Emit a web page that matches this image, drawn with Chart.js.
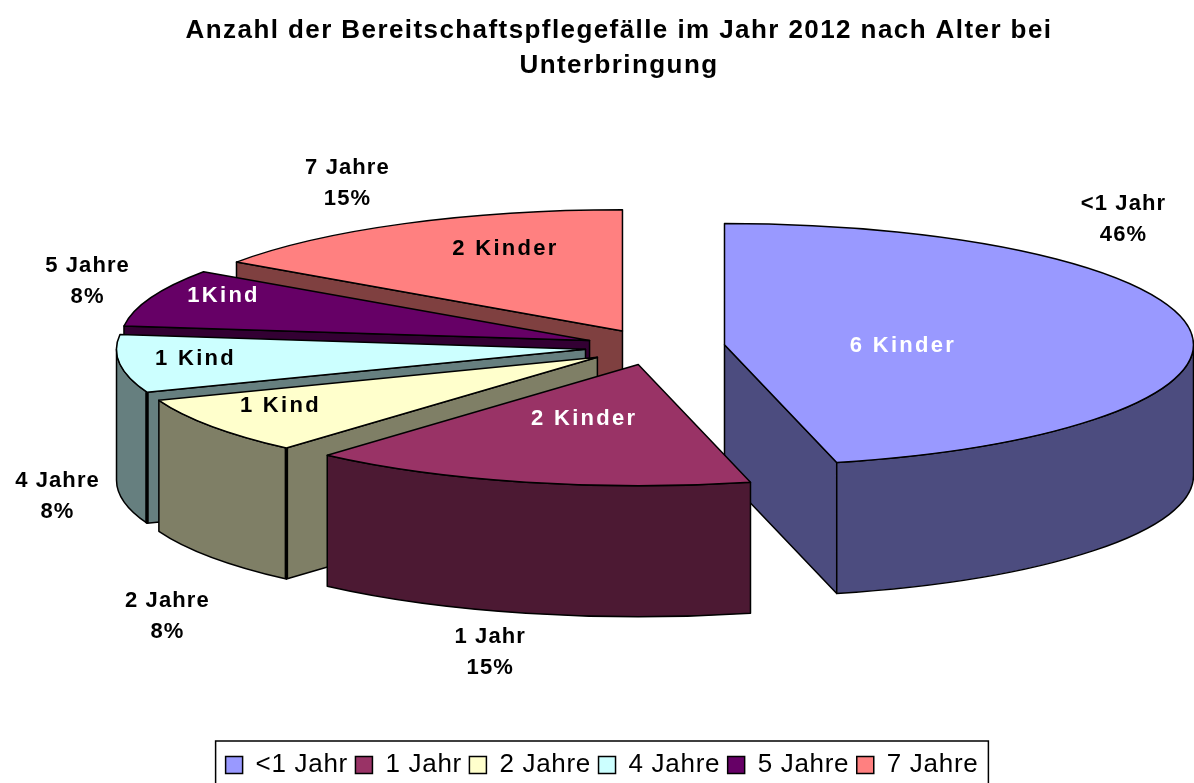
<!DOCTYPE html>
<html><head><meta charset="utf-8">
<style>html,body{margin:0;padding:0;background:#fff}canvas{display:block}</style>
<script src="https://cdn.jsdelivr.net/npm/chart.js@4"></script>
</head><body>
<canvas id="c" width="1194" height="783"></canvas>
<script>
const titleLines = ['Anzahl der Bereitschaftspflegefälle im Jahr 2012 nach Alter bei', 'Unterbringung'];
const categories = ['<1 Jahr', '1 Jahr', '2 Jahre', '4 Jahre', '5 Jahre', '7 Jahre'];
const children = [6, 2, 1, 1, 1, 2];
const percentLabels = ['46%', '15%', '8%', '8%', '8%', '15%'];
const countLabels = ['6 Kinder', '2 Kinder', '1 Kind', '1 Kind', '1Kind', '2 Kinder'];

const topColors = ['#9999FF', '#993366', '#FFFFCC', '#CCFFFF', '#660066', '#FF8080'];
const wallColors = ['#4C4C7F', '#4C1933', '#7F7F66', '#667F7F', '#330033', '#7F4040'];
const countColors = ['#fff', '#fff', '#000', '#000', '#fff', '#000'];
const countOffsets = [[178.5, 1], [-54, 54], [-317, 49], [-390, 10], [-366, -45], [-117, -82]];
const nameOffsets = [[399, -141], [-148, 272], [-430, 244], [-528, 132], [-502, -75], [-275, -163]];

const PIE = {x: 655, y: 347, r: 469, squash: 0.2585, depth: 131, explode: 70, percentGap: 31};
const drawOrder = [0, 5, 4, 3, 2, 1];
const LINE = '#000';

function geom(arc) {
  const mid = (arc.startAngle + arc.endAngle) / 2;
  const ax = PIE.x + Math.cos(mid) * PIE.explode;
  const ay = PIE.y + Math.sin(mid) * PIE.explode * PIE.squash;
  const pt = a => [ax + Math.cos(a) * arc.outerRadius, ay + Math.sin(a) * arc.outerRadius * PIE.squash];
  return {mid, ax, ay, pt};
}
function face(ctx, g, a) {
  const p = g.pt(a);
  ctx.beginPath();
  ctx.moveTo(g.ax, g.ay);
  ctx.lineTo(p[0], p[1]);
  ctx.lineTo(p[0], p[1] + PIE.depth);
  ctx.lineTo(g.ax, g.ay + PIE.depth);
  ctx.closePath();
  ctx.fill(); ctx.stroke();
}
function drawWalls(ctx, arc, color) {
  const g = geom(arc), R = arc.outerRadius, ry = R * PIE.squash;
  ctx.fillStyle = color; ctx.strokeStyle = LINE; ctx.lineWidth = 1.5; ctx.lineJoin = 'round';
  const startVisible = Math.cos(arc.startAngle) < -1e-6;
  const endVisible = Math.cos(arc.endAngle) > 1e-6;
  if (startVisible) face(ctx, g, arc.startAngle);
  if (endVisible) face(ctx, g, arc.endAngle);
  const from = Math.max(arc.startAngle, 0), to = Math.min(arc.endAngle, Math.PI);
  if (to > from) {
    ctx.beginPath();
    ctx.ellipse(g.ax, g.ay, R, ry, 0, from, to);
    ctx.ellipse(g.ax, g.ay + PIE.depth, R, ry, 0, to, from, true);
    ctx.closePath();
    ctx.fill(); ctx.stroke();
  }
  if (startVisible && to > from) {
    const p = g.pt(arc.startAngle);
    ctx.lineWidth = 3.5;
    ctx.beginPath();
    ctx.moveTo(p[0], p[1]);
    ctx.lineTo(p[0], p[1] + PIE.depth);
    ctx.stroke();
  }
}
function drawTop(ctx, arc) {
  const g = geom(arc), R = arc.outerRadius;
  ctx.save();
  ctx.translate(g.ax, g.ay);
  ctx.scale(1, PIE.squash);
  ctx.translate(-arc.x, -arc.y);
  arc.draw(ctx);
  ctx.restore();
  ctx.beginPath();
  ctx.moveTo(g.ax, g.ay);
  ctx.ellipse(g.ax, g.ay, R, R * PIE.squash, 0, arc.startAngle, arc.endAngle);
  ctx.closePath();
  ctx.strokeStyle = LINE; ctx.lineWidth = 1.5; ctx.stroke();
}
function withSpacing(box, spacing) {
  const original = box.draw;
  box.draw = function (area) {
    const ctx = this.ctx;
    ctx.letterSpacing = spacing;
    original.call(this, area);
    ctx.letterSpacing = '0px';
  };
}

const pie3d = {
  id: 'pie3d',
  beforeLayout(chart) { chart.ctx.letterSpacing = '0.7px'; },
  afterLayout(chart) {
    chart.ctx.letterSpacing = '0px';
    chart.titleBlock.left += 17; chart.titleBlock.right += 17;
    withSpacing(chart.titleBlock, '1.42px');
    withSpacing(chart.legend, '0.7px');
  },
  beforeDatasetDraw(chart, args) {
    const ctx = chart.ctx, arcs = args.meta.data;
    ctx.save();
    drawOrder.forEach(i => { drawWalls(ctx, arcs[i], wallColors[i]); drawTop(ctx, arcs[i]); });
    ctx.restore();
    return false;
  },
  afterDatasetsDraw(chart) {
    const ctx = chart.ctx, arcs = chart.getDatasetMeta(0).data;
    ctx.save();
    ctx.font = 'bold 22px "Liberation Sans"';
    ctx.textAlign = 'center'; ctx.textBaseline = 'middle';
    arcs.forEach((arc, i) => {
      const g = geom(arc);
      ctx.letterSpacing = '2.3px';
      ctx.fillStyle = countColors[i];
      ctx.fillText(countLabels[i], g.ax + countOffsets[i][0], g.ay + countOffsets[i][1]);
      ctx.letterSpacing = '1.1px';
      ctx.fillStyle = '#000';
      const nx = g.ax + nameOffsets[i][0], ny = g.ay + nameOffsets[i][1];
      ctx.fillText(categories[i], nx, ny);
      ctx.fillText(percentLabels[i], nx, ny + PIE.percentGap);
    });
    ctx.restore();
    const boxes = chart.legend.legendHitBoxes, first = boxes[0], last = boxes[boxes.length - 1];
    ctx.save();
    ctx.strokeStyle = '#000'; ctx.lineWidth = 1.5;
    ctx.strokeRect(first.left - 10, 741, last.left + last.width - first.left + 20, 60);
    ctx.restore();
  }
};

new Chart(document.getElementById('c'), {
  type: 'pie',
  data: {
    labels: categories,
    datasets: [{data: children, backgroundColor: topColors, borderWidth: 0, radius: PIE.r}]
  },
  plugins: [pie3d],
  options: {
    responsive: false,
    animation: false,
    layout: {padding: {left: 10, bottom: -5}},
    plugins: {
      tooltip: {enabled: false},
      title: {
        display: true,
        text: titleLines,
        color: '#000',
        font: {family: '"Liberation Sans"', size: 26, weight: 'bold', lineHeight: 1.346},
        padding: {top: 13, bottom: 10}
      },
      legend: {
        position: 'bottom',
        labels: {
          color: '#000',
          font: {family: '"Liberation Sans"', size: 26},
          boxWidth: 17, boxHeight: 17, padding: 7.5,
          generateLabels(chart) {
            return categories.map((c, i) => ({
              text: c, fillStyle: topColors[i], strokeStyle: '#000', lineWidth: 1.5, index: i, hidden: false
            }));
          }
        }
      }
    }
  }
});
</script>
</body></html>
